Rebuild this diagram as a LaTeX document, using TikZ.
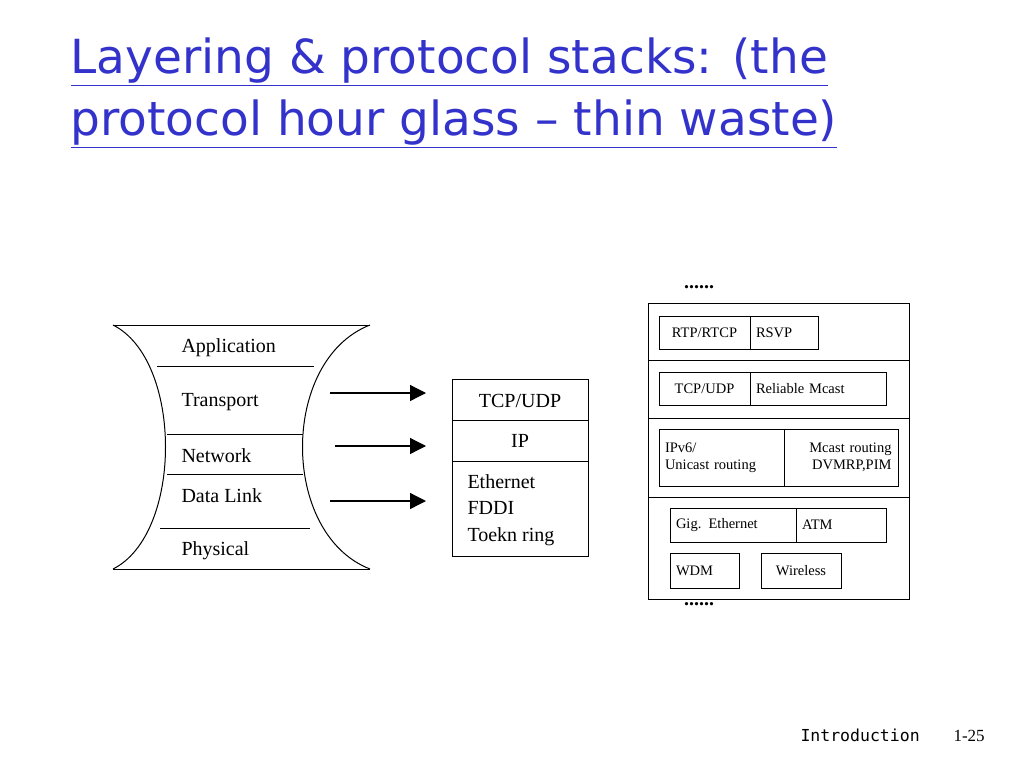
\documentclass[tikz,border=0pt]{standalone}
\usepackage{fontspec}
\setmainfont{Liberation Serif}
\newfontfamily\titlefont{DejaVu Sans}
\newfontfamily\footfont{DejaVu Sans Mono}
\usetikzlibrary{arrows.meta}
\definecolor{ttl}{RGB}{51,51,204}
\begin{document}
\begin{tikzpicture}[x=1pt,y=-1pt,line width=1pt,
  lab/.style={font=\fontsize{20}{22}\selectfont,anchor=west,inner sep=0},
  sm/.style={font=\fontsize{14.5}{17}\selectfont,inner sep=0},
  arr/.style={-{Triangle[length=16pt,width=16pt]},line width=1.3pt},
  bx/.style={draw,line width=0.9pt}]
\useasboundingbox (0,0) rectangle (1024,768);
% title
\node[anchor=west,inner sep=0,text=ttl,font=\titlefont\fontsize{47}{54}\selectfont] (t1) at (70,62) {\underline{Layering \& protocol stacks: (the}};
\node[anchor=west,inner sep=0,text=ttl,font=\titlefont\fontsize{47}{54}\selectfont] (t2) at (70,124) {\underline{protocol hour glass – thin waste)}};
% hourglass
\draw (113,325) -- (370,325);
\draw (113,569) -- (370,569);
\draw (113,325) .. controls (183,360) and (183,534) .. (113,569);
\draw (370,325) .. controls (280,360) and (280,534) .. (370,569);
\draw (157,366) -- (314,366);
\draw (167,434) -- (303,434);
\draw (167,474) -- (303,474);
\draw (160,528) -- (310,528);
\node[lab] (app) at (181,348) {Application};
\node[lab] (tra) at (181,402) {Transport};
\node[lab] (net) at (181,456) {Network};
\node[lab] (dl) at (181,496) {Data Link};
\node[lab] (phy) at (181,551) {Physical};
% middle box
\draw[bx] (452,379) rectangle (588,556);
\draw[bx] (452,420) -- (588,420);
\draw[bx] (452,461) -- (588,461);
\node[font=\fontsize{20}{22}\selectfont,inner sep=0] (tcp) at (520,401) {TCP/UDP};
\node[font=\fontsize{20}{22}\selectfont,inner sep=0] (ip) at (520,441) {IP};
\node[font=\fontsize{20}{26.5}\selectfont,anchor=north west,inner sep=0,align=left] (eth) at (467,474) {Ethernet\\FDDI\\Toekn ring};
\coordinate (a1) at (330,393); \coordinate (b1) at (426,393);
\coordinate (a2) at (335,446); \coordinate (b2) at (426,446);
\coordinate (a3) at (330,501); \coordinate (b3) at (426,501);
\draw[arr] (a1) -- (b1);
\draw[arr] (a2) -- (b2);
\draw[arr] (a3) -- (b3);
% right stack
\draw[bx] (648,303) rectangle (909,599);
\draw[bx] (648,360) -- (909,360);
\draw[bx] (648,418) -- (909,418);
\draw[bx] (648,497) -- (909,497);
\node[bx,sm,minimum width=91pt,minimum height=33pt] (rtp) at (704.5,332.5) {RTP/RTCP};
\node[bx,sm,minimum width=68pt,minimum height=33pt,text width=56pt,align=left] (rsvp) at (784,332.5) {RSVP};
\node[bx,sm,minimum width=91pt,minimum height=33pt] (tcp2) at (704.5,388.5) {TCP/UDP};
\node[bx,sm,minimum width=136pt,minimum height=33pt,text width=124pt,align=left] (rel) at (818,388.5) {Reliable Mcast};
\node[bx,sm,minimum width=125pt,minimum height=57pt,text width=113pt,align=left] (ipv6) at (721.5,457.5) {IPv6/\\Unicast routing};
\node[bx,sm,minimum width=114pt,minimum height=57pt,text width=101pt,align=right] (mc) at (841,457.5) {Mcast routing\\DVMRP,PIM};
\node[bx,sm,minimum width=126pt,minimum height=34pt,text width=114pt,align=left] (gig) at (733,525) {Gig. Ethernet};
\node[bx,sm,minimum width=90pt,minimum height=34pt,text width=78pt,align=left] (atm) at (841,525) {ATM};
\node[bx,sm,minimum width=69pt,minimum height=35pt,text width=57pt,align=left] (wdm) at (704.5,570.5) {WDM};
\node[bx,sm,minimum width=80pt,minimum height=35pt] (wl) at (801,570.5) {Wireless};
\node[font=\bfseries\fontsize{20}{20}\selectfont,inner sep=0] (d1) at (699,287) {......};
\node[font=\bfseries\fontsize{20}{20}\selectfont,inner sep=0] (d2) at (699,604) {......};
% footer
\node[anchor=west,inner sep=0,font=\footfont\fontsize{16.5}{20}\selectfont] (intro) at (800,735) {Introduction};
\node[anchor=west,inner sep=0,font=\fontsize{17}{20}\selectfont] (pg) at (953,736) {1-25};
\end{tikzpicture}
\end{document}
